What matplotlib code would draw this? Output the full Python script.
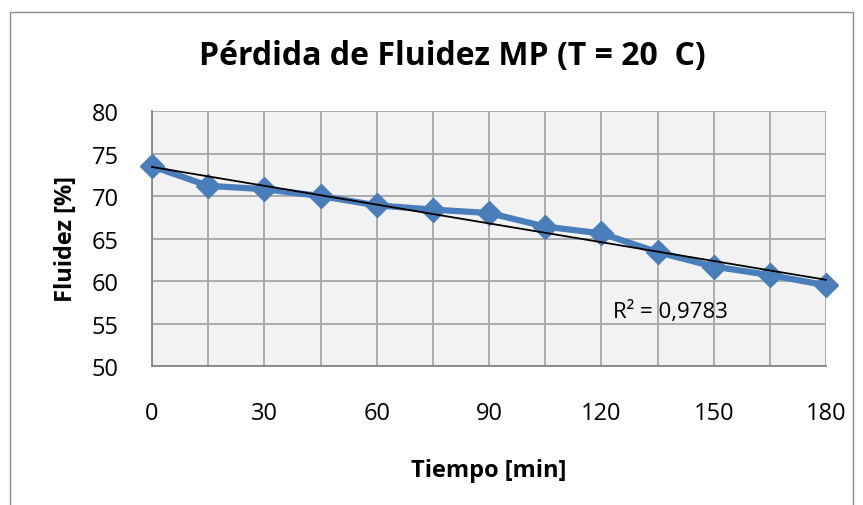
import matplotlib.pyplot as plt
import numpy as np
from matplotlib.patches import Rectangle
from matplotlib.ticker import MultipleLocator

plt.rcParams['font.family'] = ['Open Sans', 'DejaVu Sans']

tiempo = [0, 15, 30, 45, 60, 75, 90, 105, 120, 135, 150, 165, 180]
fluidez = [73.5, 71.2, 70.8, 70.0, 68.9, 68.4, 68.0, 66.4, 65.6, 63.4, 61.7, 60.7, 59.5]
x_ticks = [0, 30, 60, 90, 120, 150, 180]
y_ticks = [50, 55, 60, 65, 70, 75, 80]

fig = plt.figure(figsize=(8.63, 5.06), dpi=100)
W, H = 863, 506
ax = fig.add_axes([152 / W, 1 - 367 / H, (826 - 152) / W, (367 - 112) / H])

# chart border
fig.patches.append(Rectangle((10 / W, -0.1), (853 - 10) / W, 1.1 - 13 / H,
                             transform=fig.transFigure, fill=False,
                             edgecolor='#8c8c8c', linewidth=1))

ax.set_facecolor('#f2f2f2')
ax.set_xlim(0, 180)
ax.set_ylim(50, 80)
ax.set_xticks(x_ticks)
ax.set_yticks(y_ticks)
ax.xaxis.set_minor_locator(MultipleLocator(15))
ax.grid(True, which='both', color='#a6a6a6', linewidth=1.3)
ax.set_axisbelow(True)
for s in ['top', 'right']:
    ax.spines[s].set_visible(False)
for s in ['left', 'bottom']:
    ax.spines[s].set_color('#868686')
    ax.spines[s].set_linewidth(1.3)
ax.tick_params(which='both', length=0)
ax.tick_params(axis='x', pad=25, labelsize=17)
ax.tick_params(axis='y', pad=24, labelsize=17)

ax.plot(tiempo, fluidez, color='#4a7ebb', linewidth=4.5, marker='D',
        markersize=12, clip_on=False, zorder=3)

# linear trendline
m, b = np.polyfit(tiempo, fluidez, 1)
xt = np.array([0, 180])
ax.plot(xt, m * xt + b, color='black', linewidth=1.3, zorder=4, clip_on=False)
ax.text(123, 56.5, 'R² = 0,9783', fontsize=16, va='center', ha='left')

ax.set_xlabel('Tiempo [min]', fontsize=17, fontweight='bold', labelpad=24)
ax.set_ylabel('Fluidez [%]', fontsize=17, fontweight='bold', labelpad=10)
fig.text(452 / W, 1 - 57 / H, 'Pérdida de Fluidez MP (T = 20  C)',
         fontsize=23, fontweight='bold', ha='center', va='center')

fig.savefig('out.png', dpi=100)
